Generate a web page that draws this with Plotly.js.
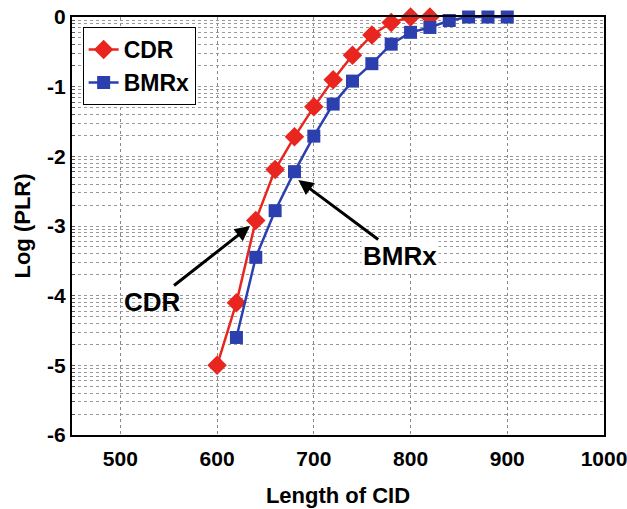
<!DOCTYPE html>
<html>
<head>
<meta charset="utf-8">
<script src="https://cdn.plot.ly/plotly-3.0.1.min.js"></script>
<style>html,body{margin:0;padding:0;background:#fff;}#chart{width:627px;height:509px;}</style>
</head>
<body>
<div id="chart"></div>
<script>
// Data
const cdrX = [600, 620, 640, 660, 680, 700, 720, 740, 760, 780, 800, 820];
const cdrY = [-5.0, -4.1, -2.92, -2.19, -1.72, -1.29, -0.9, -0.55, -0.26, -0.08, 0, 0];
const bmrX = [620, 640, 660, 680, 700, 720, 740, 760, 780, 800, 820, 840, 860, 880, 900];
const bmrY = [-4.6, -3.45, -2.78, -2.22, -1.71, -1.25, -0.92, -0.67, -0.39, -0.22, -0.15, -0.05, 0, 0, 0];
const xTickVals = [500, 600, 700, 800, 900, 1000];
const xTickText = ['500', '600', '700', '800', '900', '1000'];
const yTickVals = [-6, -5, -4, -3, -2, -1, 0];
const yTickText = ['-6', '-5', '-4', '-3', '-2', '-1', '0'];
const seriesNames = ['CDR', 'BMRx'];

const FONT = 'Liberation Sans, Arial, sans-serif';
const RED = '#e8261f';
const BLUE = '#2b3fae';

const traces = [
  {
    x: cdrX, y: cdrY, name: seriesNames[0], type: 'scatter', mode: 'lines+markers',
    line: {color: RED, width: 2.5},
    marker: {symbol: 'diamond', size: 15, color: RED},
    cliponaxis: false, legendgroup: 'a'
  },
  {
    x: bmrX, y: bmrY, name: seriesNames[1], type: 'scatter', mode: 'lines+markers',
    line: {color: BLUE, width: 2.5},
    marker: {symbol: 'square', size: 13, color: BLUE},
    cliponaxis: false, legendgroup: 'b'
  },
  {
    x: [], y: [], yaxis: 'y2', showlegend: false, hoverinfo: 'skip', type: 'scatter', mode: 'lines'
  }
];

const layout = {
  width: 627, height: 509,
  margin: {l: 72, r: 23, t: 17, b: 74},
  paper_bgcolor: '#fff', plot_bgcolor: '#fff',
  font: {family: FONT, color: '#000'},
  showlegend: true,
  legend: {
    x: 0.02, y: 0.976, xanchor: 'left', yanchor: 'top',
    bgcolor: '#fff', bordercolor: '#000', borderwidth: 1,
    font: {family: FONT, size: 23, color: '#000', weight: 'bold'},
    tracegroupgap: 0
  },
  xaxis: {
    range: [450, 1000],
    tickvals: xTickVals, ticktext: xTickText,
    tickfont: {family: FONT, size: 21, weight: 'bold'},
    ticks: '', ticklen: 0, ticklabelstandoff: 4, ticklabeloverflow: 'allow',
    showgrid: true, gridcolor: '#888', griddash: 'dot', gridwidth: 1,
    zeroline: false,
    showline: true, linecolor: '#000', linewidth: 2, mirror: true,
    title: {text: 'Length of CID', font: {family: FONT, size: 22, weight: 'bold'}, standoff: 18}
  },
  yaxis: {
    range: [-6, 0],
    tickvals: yTickVals, ticktext: yTickText,
    tickfont: {family: FONT, size: 21, weight: 'bold'},
    ticks: '',
    showgrid: true, gridcolor: '#888', griddash: 'dot', gridwidth: 1,
    zeroline: false,
    showline: true, linecolor: '#000', linewidth: 2, mirror: true,
    title: {text: 'Log (PLR)', font: {family: FONT, size: 22, weight: 'bold'}, standoff: 10}
  },
  yaxis2: {
    type: 'log', overlaying: 'y', side: 'left',
    range: [-6, 0], dtick: 'D1',
    showticklabels: false,
    ticks: 'inside', ticklen: 3, tickcolor: '#555',
    showgrid: true, gridcolor: '#999', griddash: 'dot', gridwidth: 1,
    zeroline: false, showline: false
  },
  annotations: [
    {
      x: 634, y: -3.0, xref: 'x', yref: 'y',
      text: 'CDR', showarrow: true,
      ax: -97, ay: 76,
      arrowhead: 2, arrowsize: 1, arrowwidth: 3, arrowcolor: '#000',
      font: {family: FONT, size: 26, weight: 'bold', color: '#000'}
    },
    {
      x: 684, y: -2.34, xref: 'x', yref: 'y',
      text: 'BMRx', showarrow: true,
      ax: 102, ay: 76,
      arrowhead: 2, arrowsize: 1, arrowwidth: 3, arrowcolor: '#000',
      font: {family: FONT, size: 26, weight: 'bold', color: '#000'},
      bgcolor: '#fff'
    }
  ]
};

Plotly.newPlot('chart', traces, layout, {displayModeBar: false, staticPlot: true});
</script>
</body>
</html>
